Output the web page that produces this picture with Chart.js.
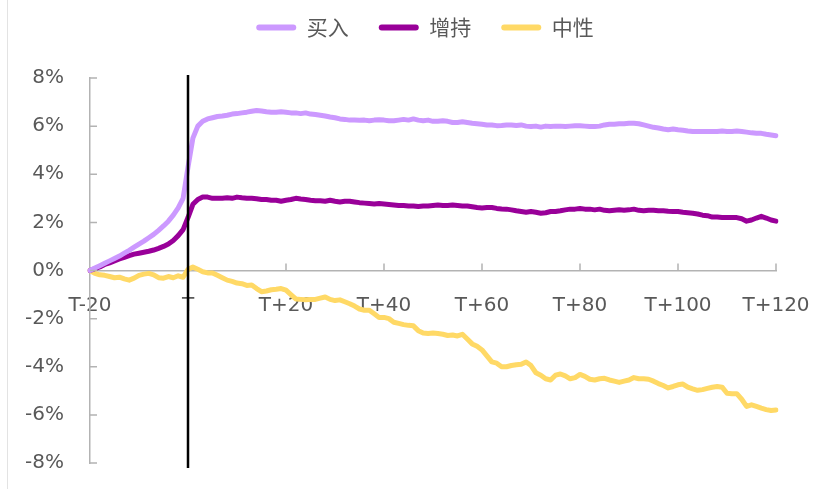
<!DOCTYPE html>
<html>
<head>
<meta charset="utf-8">
<title>买入 / 增持 / 中性 超额收益</title>
<script src="https://cdn.jsdelivr.net/npm/chart.js"></script>
<style>
  html, body { margin: 0; padding: 0; background: #fff; }
  #wrap { width: 822px; height: 489px; position: relative; }
</style>
</head>
<body>
<div id="wrap"><canvas id="chart"></canvas></div>
<script>
// day labels T-20 .. T+120
const days = [];
for (let d = -20; d <= 120; d++) days.push(d === 0 ? 'T' : (d < 0 ? 'T' + d : 'T+' + d));

const xTickLabels = ['T-20', 'T', 'T+20', 'T+40', 'T+60', 'T+80', 'T+100', 'T+120'];
const seriesNames = ['买入', '增持', '中性'];

// values in %
const buy = [
  0, 0.1, 0.2, 0.3, 0.4, 0.5, 0.6, 0.72, 0.84, 0.97,
  1.1, 1.22, 1.36, 1.5, 1.67, 1.85, 2.05, 2.3, 2.6, 3.0,
  4.3, 5.5, 6.0, 6.2, 6.3, 6.35, 6.4, 6.42, 6.45, 6.5,
  6.52, 6.55, 6.58, 6.62, 6.65, 6.63, 6.6, 6.58, 6.58, 6.6,
  6.58, 6.55, 6.55, 6.52, 6.55, 6.5, 6.48, 6.45, 6.42, 6.38,
  6.35, 6.3, 6.28, 6.25, 6.25, 6.24, 6.25, 6.22, 6.25, 6.26,
  6.25, 6.22, 6.22, 6.25, 6.28, 6.25, 6.3, 6.25, 6.22, 6.25,
  6.2, 6.2, 6.22, 6.2, 6.15, 6.15, 6.18, 6.15, 6.12, 6.1,
  6.08, 6.05, 6.05, 6.02, 6.03, 6.05, 6.05, 6.03, 6.05, 6.0,
  5.98, 6.0, 5.96, 6.0, 5.98, 6.0, 6.0, 5.98, 6.0, 6.02,
  6.02, 6.0, 5.98, 5.98, 6.0, 6.05, 6.08, 6.08, 6.1, 6.1,
  6.12, 6.12, 6.1, 6.05, 6.0, 5.95, 5.92, 5.88, 5.85, 5.88,
  5.85, 5.83, 5.8, 5.78, 5.78, 5.78, 5.78, 5.78, 5.78, 5.8,
  5.78, 5.78, 5.8, 5.78, 5.75, 5.72, 5.7, 5.7, 5.66, 5.63,
  5.6
];
const hold = [
  0, 0.08, 0.15, 0.25, 0.32, 0.4, 0.48, 0.55, 0.62, 0.68,
  0.72, 0.76, 0.8, 0.85, 0.92, 1.0, 1.1, 1.25, 1.45, 1.7,
  2.2, 2.75, 2.95, 3.05, 3.05, 3.0, 3.0, 3.0, 3.02, 3.0,
  3.05, 3.02, 3.0, 3.0, 2.98, 2.95, 2.95, 2.92, 2.92, 2.88,
  2.92, 2.95, 3.0, 2.97, 2.95, 2.92, 2.9, 2.9, 2.88, 2.92,
  2.88, 2.85, 2.88, 2.88, 2.85, 2.82, 2.8, 2.78, 2.76, 2.78,
  2.76, 2.74, 2.72, 2.7, 2.7, 2.68, 2.68, 2.66, 2.68, 2.68,
  2.7, 2.72, 2.7, 2.7, 2.72, 2.7, 2.68, 2.68, 2.65, 2.62,
  2.6, 2.62, 2.62, 2.58, 2.56, 2.55, 2.52, 2.48, 2.45, 2.42,
  2.45, 2.42, 2.38, 2.4, 2.45, 2.45, 2.48, 2.52, 2.55, 2.55,
  2.58, 2.55, 2.55, 2.52, 2.55, 2.5, 2.48, 2.5, 2.52, 2.5,
  2.52, 2.55, 2.5, 2.48, 2.5, 2.5, 2.48, 2.48, 2.46, 2.45,
  2.45, 2.42, 2.4, 2.38, 2.35, 2.3, 2.28, 2.22, 2.22, 2.2,
  2.2, 2.2, 2.2, 2.15, 2.05, 2.1, 2.18, 2.25, 2.18, 2.1,
  2.05
];
const neutral = [
  0, -0.12, -0.18, -0.2, -0.25, -0.3, -0.28, -0.35, -0.4, -0.32,
  -0.2, -0.15, -0.12, -0.18, -0.3, -0.32, -0.25, -0.3, -0.22, -0.28,
  0.05, 0.14, 0.05, -0.05, -0.1, -0.1, -0.2, -0.3, -0.4, -0.45,
  -0.52, -0.55, -0.62, -0.6, -0.75, -0.88, -0.85, -0.8, -0.78, -0.75,
  -0.82, -1.0, -1.18, -1.2, -1.22, -1.2, -1.2, -1.15, -1.1, -1.2,
  -1.25, -1.22, -1.3, -1.38, -1.48, -1.6, -1.65, -1.65, -1.8, -1.95,
  -1.95, -2.0, -2.15, -2.2, -2.25, -2.28, -2.3, -2.5, -2.6, -2.62,
  -2.6, -2.62, -2.65, -2.7, -2.68, -2.72, -2.65, -2.85, -3.05, -3.15,
  -3.3, -3.55, -3.8, -3.85, -4.0, -4.0, -3.95, -3.92, -3.9, -3.8,
  -3.95, -4.25, -4.35, -4.5, -4.55, -4.35, -4.3, -4.38, -4.5, -4.45,
  -4.32, -4.4, -4.52, -4.55, -4.5, -4.48, -4.55, -4.6, -4.65, -4.6,
  -4.55, -4.45, -4.5, -4.5, -4.52, -4.6, -4.7, -4.78, -4.88, -4.82,
  -4.75, -4.72, -4.85, -4.92, -4.98, -4.95, -4.9, -4.85, -4.82, -4.85,
  -5.1, -5.12, -5.12, -5.35, -5.65, -5.58, -5.65, -5.72, -5.78, -5.82,
  -5.8
];

const colors = ['#cc99ff', '#990099', '#ffd966'];
const textColor = '#595959';
const axisColor = '#b3b3b3';
const cjkFont = '"Microsoft YaHei", "Noto Sans CJK SC", sans-serif';
const tickFont = '"DejaVu Sans", sans-serif';

function mkSet(label, data, color) {
  return {
    label: label, data: data,
    borderColor: color, backgroundColor: color,
    borderWidth: 5, pointRadius: 0, tension: 0,
    borderCapStyle: 'round', borderJoinStyle: 'round'
  };
}

// tick marks pointing into the plot, black marker at T, faint left rule
const extras = {
  id: 'extras',
  beforeInit(chart) {
    const fit = chart.legend.fit;
    chart.legend.fit = function () { fit.call(this); this.height = 91; };
  },
  afterLayout(chart) {
    // legend sits a bit right of the canvas centre
    chart.legend.left += 37;
    chart.legend.right += 37;
  },
  beforeDraw(chart) {
    const ctx = chart.ctx;
    ctx.save();
    ctx.strokeStyle = '#e3e3e3';
    ctx.lineWidth = 1;
    ctx.beginPath(); ctx.moveTo(7.5, 0); ctx.lineTo(7.5, 489); ctx.stroke();
    ctx.restore();
  },
  afterDatasetsDraw(chart) {
    const { ctx, scales: { x, y } } = chart;
    const y0 = y.getPixelForValue(0);
    const x0 = x.left;
    ctx.save();
    ctx.strokeStyle = axisColor;
    ctx.lineWidth = 1.5;
    ctx.beginPath();
    days.forEach((d, i) => {
      if (xTickLabels.includes(d) && i > 0) {
        const px = x.getPixelForValue(i);
        ctx.moveTo(px, y0); ctx.lineTo(px, y0 - 7);
      }
    });
    y.ticks.forEach(t => {
      const py = y.getPixelForValue(t.value);
      ctx.moveTo(x0, py); ctx.lineTo(x0 + 7, py);
    });
    ctx.stroke();
    const tx = x.getPixelForValue(days.indexOf('T'));
    ctx.strokeStyle = '#000';
    ctx.lineWidth = 2.5;
    ctx.beginPath(); ctx.moveTo(tx, 75); ctx.lineTo(tx, 468); ctx.stroke();
    ctx.restore();
  }
};

new Chart(document.getElementById('chart'), {
  type: 'line',
  data: {
    labels: days,
    datasets: [
      mkSet(seriesNames[0], buy, colors[0]),
      mkSet(seriesNames[1], hold, colors[1]),
      mkSet(seriesNames[2], neutral, colors[2])
    ]
  },
  options: {
    responsive: true,
    maintainAspectRatio: false,
    animation: false,
    layout: { padding: { top: -13, left: 0, right: 46, bottom: 26 } },
    plugins: {
      tooltip: { enabled: false },
      legend: {
        position: 'top',
        labels: {
          color: textColor,
          font: { family: cjkFont, size: 21 },
          boxWidth: 40, boxHeight: 6, padding: 30,
          useBorderRadius: true, borderRadius: 3,
          generateLabels(chart) {
            return Chart.defaults.plugins.legend.labels.generateLabels(chart)
              .map(l => Object.assign(l, { lineWidth: 0 }));
          }
        }
      }
    },
    scales: {
      x: {
        position: { y: 0 },
        grid: { display: true, drawOnChartArea: false, drawTicks: false },
        border: { color: axisColor, width: 1.5 },
        afterFit(s) { s.paddingLeft = 0; s.paddingRight = 0; },
        ticks: {
          autoSkip: false, maxRotation: 0, padding: 23,
          color: textColor, font: { family: tickFont, size: 20 },
          callback(v, i) { return xTickLabels.includes(days[i]) ? days[i] : null; }
        }
      },
      y: {
        min: -8, max: 8,
        grid: { drawOnChartArea: false, drawTicks: false },
        border: { color: axisColor, width: 1.5 },
        afterFit(s) { s.width = 90; s.paddingTop = 0; s.paddingBottom = 0; },
        ticks: {
          stepSize: 2, padding: 26,
          color: textColor, font: { family: tickFont, size: 20 },
          callback(v) { return v + '%'; }
        }
      }
    }
  },
  plugins: [extras]
});
</script>
</body>
</html>
